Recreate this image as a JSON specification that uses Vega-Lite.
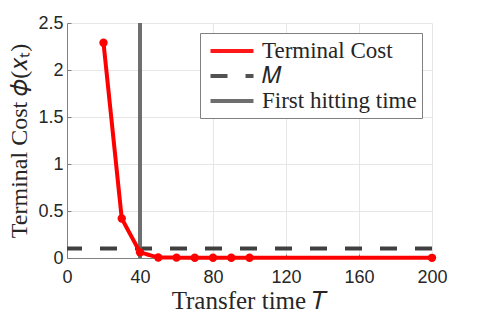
{
  "$schema": "https://vega.github.io/schema/vega-lite/v6.json",
  "width": 365,
  "height": 235,
  "autosize": "none",
  "padding": {"left": 67, "top": 23, "right": 46, "bottom": 61},
  "background": "white",
  "data": {
    "values": [
      {"series": "Terminal Cost", "T": 20, "cost": 2.29},
      {"series": "Terminal Cost", "T": 30, "cost": 0.42},
      {"series": "Terminal Cost", "T": 40, "cost": 0.06},
      {"series": "Terminal Cost", "T": 50, "cost": 0.005},
      {"series": "Terminal Cost", "T": 60, "cost": 0.004},
      {"series": "Terminal Cost", "T": 70, "cost": 0.003},
      {"series": "Terminal Cost", "T": 80, "cost": 0.003},
      {"series": "Terminal Cost", "T": 90, "cost": 0.003},
      {"series": "Terminal Cost", "T": 100, "cost": 0.003},
      {"series": "Terminal Cost", "T": 200, "cost": 0.002},
      {"series": "𝑀", "cost": 0.1},
      {"series": "First hitting time", "T": 40}
    ]
  },
  "encoding": {
    "color": {
      "field": "series", "type": "nominal",
      "scale": {"domain": ["Terminal Cost", "𝑀", "First hitting time"], "range": ["#ff0000", "#404040", "#5f5f5f"]},
      "legend": {"title": null}
    },
    "strokeDash": {
      "field": "series", "type": "nominal",
      "scale": {"domain": ["Terminal Cost", "𝑀", "First hitting time"], "range": [[1, 0], [17, 18], [1, 0]]},
      "legend": {"title": null}
    }
  },
  "layer": [
    {
      "transform": [{"filter": "datum.series === '𝑀'"}],
      "mark": {"type": "rule", "strokeWidth": 4},
      "encoding": {"y": {"field": "cost", "type": "quantitative", "scale": {"domain": [0, 2.5], "nice": false}}}
    },
    {
      "transform": [{"filter": "datum.series === 'First hitting time'"}],
      "mark": {"type": "rule", "strokeWidth": 4, "opacity": 0.9},
      "encoding": {"x": {"field": "T", "type": "quantitative", "scale": {"domain": [0, 200], "nice": false}}}
    },
    {
      "transform": [{"filter": "datum.series === 'Terminal Cost'"}],
      "mark": {"type": "line", "strokeWidth": 4, "clip": false, "point": {"filled": true, "size": 70, "clip": false}},
      "encoding": {
        "x": {"field": "T", "type": "quantitative", "scale": {"domain": [0, 200], "nice": false},
          "axis": {"values": [0, 40, 80, 120, 160, 200], "format": "~r", "labelFlush": false, "title": "Transfer time 𝑇"}},
        "y": {"field": "cost", "type": "quantitative", "scale": {"domain": [0, 2.5], "nice": false},
          "axis": {"values": [0, 0.5, 1, 1.5, 2, 2.5], "format": "~r", "title": "Terminal Cost 𝜙(𝑥ₜ)"}}
      }
    }
  ],
  "config": {
    "view": {"stroke": null},
    "axis": {
      "labelFont": "Liberation Sans", "labelFontSize": 18, "labelColor": "#262626",
      "titleFont": "Liberation Serif", "titleFontSize": 24, "titleFontWeight": "normal", "titleColor": "#262626",
      "domainColor": "#808080", "domainWidth": 1,
      "gridColor": "#e6e6e6", "gridWidth": 1,
      "tickColor": "#808080", "tickSize": -4, "labelPadding": 8
    },
    "axisX": {"labelPadding": 14, "titlePadding": 2, "titleFontSize": 25},
    "axisY": {"titlePadding": 6},
    "legend": {
      "orient": "top-right", "offset": 10,
      "labelFont": "Liberation Serif", "labelFontSize": 23, "labelColor": "#262626",
      "symbolType": "M-2,0H2", "symbolSize": 462, "symbolStrokeWidth": 4,
      "symbolOffset": 14,
      "strokeColor": "#808080", "fillColor": "white", "padding": 5,
      "rowPadding": 0, "labelOffset": 17
    }
  }
}
